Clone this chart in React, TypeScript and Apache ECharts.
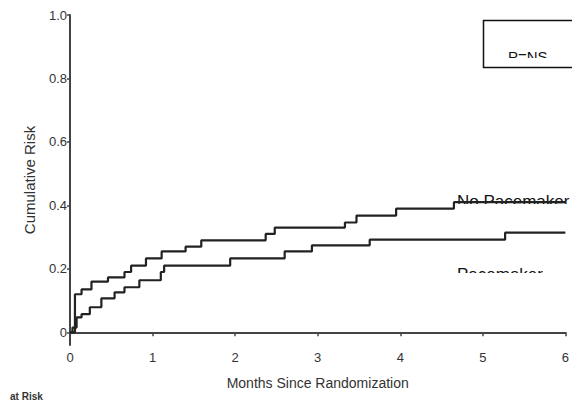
import React, { useEffect, useRef } from "react";
import * as echarts from "echarts";

// Kaplan–Meier style cumulative risk (months, risk)
const noPacemakerTimes = [0, 0.06, 0.14, 0.26, 0.46, 0.66, 0.74, 0.92, 1.11, 1.4, 1.59, 2.37, 2.48, 3.33, 3.47, 3.95, 4.65, 6];
const noPacemakerRisk = [0, 0.12, 0.135, 0.16, 0.173, 0.19, 0.21, 0.233, 0.255, 0.27, 0.29, 0.31, 0.33, 0.346, 0.368, 0.39, 0.41, 0.41];

const pacemakerTimes = [0, 0.03, 0.08, 0.14, 0.24, 0.38, 0.54, 0.66, 0.84, 1.1, 1.14, 1.94, 2.6, 2.93, 3.63, 5.27, 6];
const pacemakerRisk = [0, 0.015, 0.047, 0.057, 0.079, 0.107, 0.126, 0.142, 0.164, 0.19, 0.21, 0.233, 0.255, 0.274, 0.292, 0.314, 0.314];

const yTickValues = [0, 0.2, 0.4, 0.6, 0.8, 1.0];
const xTickValues = [0, 1, 2, 3, 4, 5, 6];

const FONT = "Liberation Sans, Arial, sans-serif";
const INK = "#222";

export default function App() {
  const ref = useRef<HTMLDivElement>(null);
  useEffect(() => {
    document.body.style.margin = "0";
    const chart = echarts.init(ref.current!, null, { renderer: "svg" });
    const zip = (t: number[], v: number[]) => t.map((x, i) => [x, v[i]]);
    chart.setOption({
      animation: false,
      backgroundColor: "#ffffff",
      grid: { left: 70, right: 1, top: 15, bottom: 55 },
      xAxis: {
        type: "value",
        min: 0,
        max: 6,
        interval: 1,
        name: "Months Since Randomization",
        nameLocation: "middle",
        nameGap: 31,
        nameTextStyle: { fontFamily: FONT, fontSize: 14, color: "#333" },
        axisLine: { show: true, lineStyle: { color: "#444", width: 2 } },
        axisTick: { show: true, length: 4, lineStyle: { color: "#444", width: 1.5 }, customValues: xTickValues },
        axisLabel: { fontFamily: FONT, fontSize: 13, color: "#333", margin: 6, customValues: xTickValues },
        splitLine: { show: false },
      },
      yAxis: {
        type: "value",
        min: -0.04,
        max: 1.0,
        name: "Cumulative Risk",
        nameLocation: "middle",
        nameGap: 33,
        nameRotate: 90,
        nameTextStyle: { fontFamily: FONT, fontSize: 15, color: "#333" },
        axisLine: { show: true, onZero: false, lineStyle: { color: "#444", width: 2 } },
        axisTick: { show: true, length: 3, lineStyle: { color: "#444", width: 1.5 }, customValues: yTickValues },
        axisLabel: {
          fontFamily: FONT,
          fontSize: 13,
          color: "#333",
          margin: 3,
          customValues: yTickValues,
          formatter: (v: number) => (v === 0 ? "0" : v.toFixed(1)),
        },
        splitLine: { show: false },
      },
      series: [
        {
          name: "No Pacemaker",
          type: "line",
          step: "end",
          symbol: "none",
          z: 5,
          lineStyle: { color: INK, width: 2.2 },
          data: zip(noPacemakerTimes, noPacemakerRisk),
        },
        {
          name: "Pacemaker",
          type: "line",
          step: "end",
          symbol: "none",
          z: 5,
          lineStyle: { color: INK, width: 2.2 },
          data: zip(pacemakerTimes, pacemakerRisk),
        },
      ],
      graphic: [
        { type: "text", z: 0, left: 457, top: 193, style: { text: "No Pacemaker", fontFamily: FONT, fontSize: 17, fill: "#111" } },
        { type: "rect", z: 1, shape: { x: 440, y: 204, width: 140, height: 14 }, style: { fill: "#ffffff" } },
        { type: "text", z: 0, left: 457, top: 266, style: { text: "Pacemaker", fontFamily: FONT, fontSize: 17, fill: "#111" } },
        { type: "rect", z: 1, shape: { x: 440, y: 273, width: 140, height: 16 }, style: { fill: "#ffffff" } },
        { type: "text", z: 0, left: 508, top: 49, style: { text: "P=NS", fontFamily: FONT, fontSize: 15, fill: "#111" } },
        { type: "rect", z: 1, shape: { x: 490, y: 58, width: 90, height: 9 }, style: { fill: "#ffffff" } },
        { type: "rect", z: 2, shape: { x: 483.5, y: 20.5, width: 100, height: 47 }, style: { fill: "none", stroke: "#111", lineWidth: 1.5 } },
        { type: "text", z: 0, left: 10, top: 391, style: { text: "at Risk", fontFamily: FONT, fontSize: 10, fontWeight: "bold", fill: "#333" } },
      ],
    });
    return () => chart.dispose();
  }, []);
  return <div ref={ref} style={{ width: 572, height: 400 }} />;
}
